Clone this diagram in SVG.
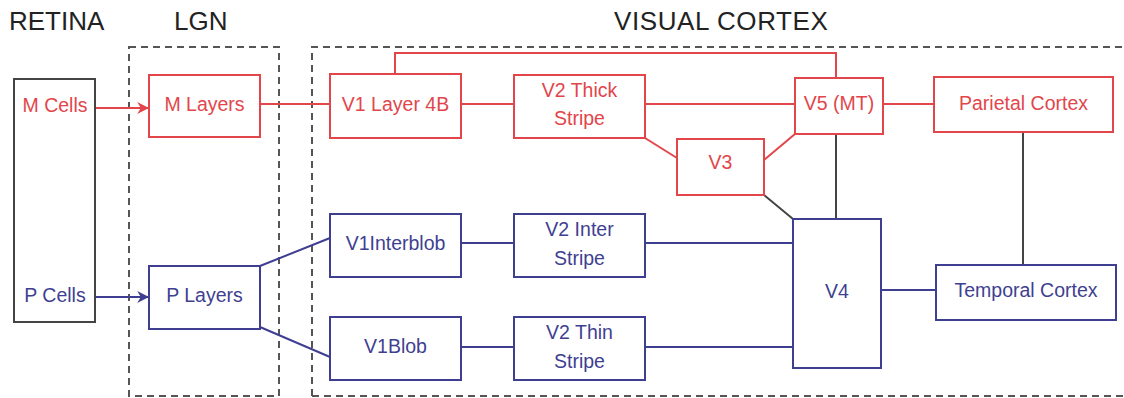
<svg xmlns="http://www.w3.org/2000/svg" width="1124" height="398" viewBox="0 0 1124 398">
<defs>
<style>
.title{font-family:"Liberation Sans",Arial,sans-serif;font-size:26px;fill:#222}
.t{font-family:"Liberation Sans",Arial,sans-serif;font-size:19.5px;text-anchor:middle}
.r{fill:#e2464b}.b{fill:#3f3f92}
.rb{fill:#fff;stroke:#e2464b;stroke-width:2}
.bb{fill:#fff;stroke:#3f3f92;stroke-width:2}
.kb{fill:#fff;stroke:#444;stroke-width:2}
.dash{fill:none;stroke:#555;stroke-width:2;stroke-dasharray:7 5}
.rl{fill:none;stroke:#e2464b;stroke-width:2}
.bl{fill:none;stroke:#3f3f92;stroke-width:2}
.gl{fill:none;stroke:#444;stroke-width:2}
</style>
<marker id="ar" viewBox="0 0 10 10" refX="9" refY="5" markerWidth="12" markerHeight="12" markerUnits="userSpaceOnUse" orient="auto"><path d="M0,0 L10,5 L0,10 L3,5 Z" fill="#e2464b"/></marker>
<marker id="ab" viewBox="0 0 10 10" refX="9" refY="5" markerWidth="12" markerHeight="12" markerUnits="userSpaceOnUse" orient="auto"><path d="M0,0 L10,5 L0,10 L3,5 Z" fill="#3f3f92"/></marker>
</defs>
<rect width="1124" height="398" fill="#fff"/>
<g id="titles">
<text class="title" x="9" y="30">RETINA</text>
<text class="title" x="174" y="30">LGN</text>
<text class="title" x="614" y="30" letter-spacing="0.6">VISUAL CORTEX</text>
</g>
<g id="regions">
<rect class="dash" x="129" y="47" width="150" height="349"/>
<path class="dash" d="M312,396 V47 H1124"/>
<path class="dash" d="M312,396 H1124"/>
</g>
<g id="connectors">
<line class="rl" x1="95" y1="108" x2="148" y2="108" marker-end="url(#ar)"/>
<line class="bl" x1="95" y1="297" x2="148" y2="297" marker-end="url(#ab)"/>
<line class="rl" x1="260" y1="104" x2="330" y2="104"/>
<line class="rl" x1="461" y1="104" x2="514" y2="104"/>
<line class="rl" x1="645" y1="104" x2="795" y2="104"/>
<path class="rl" d="M395,74 V53 H836 V78"/>
<line class="rl" x1="645" y1="138" x2="677" y2="158"/>
<line class="rl" x1="764" y1="160" x2="795" y2="134"/>
<line class="rl" x1="883" y1="104" x2="934" y2="104"/>
<line class="gl" x1="836" y1="134" x2="836" y2="219"/>
<line class="gl" x1="764" y1="195" x2="793" y2="219"/>
<line class="gl" x1="1023" y1="132" x2="1023" y2="265"/>
<line class="bl" x1="260" y1="266" x2="330" y2="238"/>
<line class="bl" x1="260" y1="327" x2="330" y2="357"/>
<line class="bl" x1="461" y1="243" x2="514" y2="243"/>
<line class="bl" x1="461" y1="347" x2="514" y2="347"/>
<line class="bl" x1="645" y1="243" x2="793" y2="243"/>
<line class="bl" x1="645" y1="347" x2="793" y2="347"/>
<line class="bl" x1="881" y1="290" x2="936" y2="290"/>
</g>
<g id="retina">
<rect class="kb" x="14" y="79" width="81" height="243" fill="none"/>
<text class="t r" x="55" y="112">M Cells</text>
<text class="t b" x="55" y="302">P Cells</text>
</g>
<g id="m-layers"><rect class="rb" x="149" y="75" width="111" height="62"/><text class="t r" x="204.5" y="111">M Layers</text></g>
<g id="p-layers"><rect class="bb" x="149" y="266" width="111" height="63"/><text class="t b" x="204.5" y="302">P Layers</text></g>
<g id="v1-4b"><rect class="rb" x="330" y="74" width="131" height="64"/><text class="t r" x="395.5" y="111">V1 Layer 4B</text></g>
<g id="v2-thick"><rect class="rb" x="514" y="75" width="131" height="63"/><text class="t r" x="579.5" y="97">V2 Thick</text><text class="t r" x="579.5" y="125">Stripe</text></g>
<g id="v3"><rect class="rb" x="677" y="139" width="87" height="56"/><text class="t r" x="720.5" y="169">V3</text></g>
<g id="v5"><rect class="rb" x="795" y="78" width="88" height="56"/><text class="t r" x="839" y="110">V5 (MT)</text></g>
<g id="parietal"><rect class="rb" x="934" y="77" width="179" height="55"/><text class="t r" x="1023.5" y="110">Parietal Cortex</text></g>
<g id="v1-interblob"><rect class="bb" x="330" y="214" width="131" height="63"/><text class="t b" x="395.5" y="250">V1Interblob</text></g>
<g id="v2-inter"><rect class="bb" x="514" y="214" width="131" height="63"/><text class="t b" x="579.5" y="236">V2 Inter</text><text class="t b" x="579.5" y="265">Stripe</text></g>
<g id="v1-blob"><rect class="bb" x="330" y="317" width="131" height="63"/><text class="t b" x="395.5" y="353">V1Blob</text></g>
<g id="v2-thin"><rect class="bb" x="514" y="317" width="131" height="63"/><text class="t b" x="579.5" y="339">V2 Thin</text><text class="t b" x="579.5" y="368">Stripe</text></g>
<g id="v4"><rect class="bb" x="793" y="219" width="88" height="149"/><text class="t b" x="837" y="298">V4</text></g>
<g id="temporal"><rect class="bb" x="936" y="265" width="180" height="55"/><text class="t b" x="1026" y="297">Temporal Cortex</text></g>
</svg>
